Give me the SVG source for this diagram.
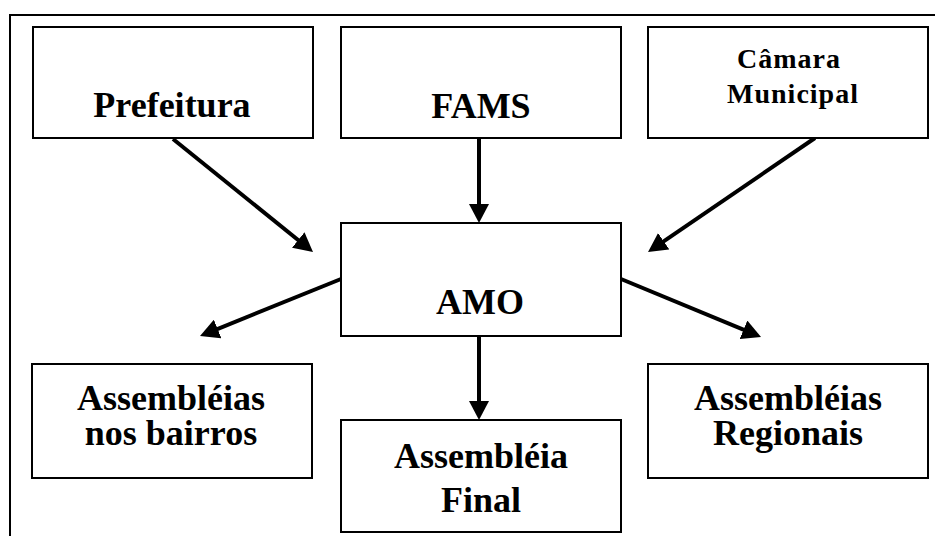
<svg xmlns="http://www.w3.org/2000/svg" width="935" height="536" viewBox="0 0 935 536">
<style>
  .box { fill: #fff; stroke: #000; stroke-width: 2; }
  .lbl { font-family: "Liberation Serif", "Times New Roman", serif; font-weight: bold; font-size: 36px; fill: #000; text-anchor: middle; }
  .sm { font-size: 28px; letter-spacing: 1px; }
  .conn { stroke: #000; stroke-width: 4; fill: none; marker-end: url(#ah); }
</style>
<defs>
  <marker id="ah" viewBox="0 0 19 20" refX="9" refY="10" markerWidth="19" markerHeight="20" markerUnits="userSpaceOnUse" orient="auto">
    <path d="M0,0 L19,10 L0,20 z" fill="#000"/>
  </marker>
</defs>
<rect width="935" height="536" fill="#fff"/>
<g id="frame">
  <path d="M10,536 L10,15 L935,15" fill="none" stroke="#000" stroke-width="2"/>
</g>
<g id="connectors">
  <line class="conn" x1="173" y1="139" x2="305.2" y2="245.7"/>
  <line class="conn" x1="479" y1="139" x2="479" y2="213"/>
  <line class="conn" x1="815" y1="138" x2="656.3" y2="246.4"/>
  <line class="conn" x1="341" y1="279" x2="209.3" y2="332.3"/>
  <line class="conn" x1="621" y1="279" x2="751.8" y2="333.2"/>
  <line class="conn" x1="479" y1="336" x2="479" y2="410"/>
</g>
<g id="prefeitura">
  <rect class="box" x="33" y="27" width="280" height="111"/>
  <text class="lbl" x="172" y="117">Prefeitura</text>
</g>
<g id="fams">
  <rect class="box" x="341" y="27" width="280" height="111"/>
  <text class="lbl" x="481" y="118">FAMS</text>
</g>
<g id="camara">
  <rect class="box" x="648" y="27" width="280" height="111"/>
  <text class="lbl sm" x="789" y="68">Câmara</text>
  <text class="lbl sm" x="793" y="103">Municipal</text>
</g>
<g id="amo">
  <rect class="box" x="341" y="223" width="280" height="113"/>
  <text class="lbl" x="480" y="314">AMO</text>
</g>
<g id="bairros">
  <rect class="box" x="32" y="364" width="280" height="114"/>
  <text class="lbl" x="171" y="410">Assembléias</text>
  <text class="lbl" x="171" y="445">nos bairros</text>
</g>
<g id="final">
  <rect class="box" x="341" y="420" width="280" height="112"/>
  <text class="lbl" x="481" y="468">Assembléia</text>
  <text class="lbl" x="481" y="512">Final</text>
</g>
<g id="regionais">
  <rect class="box" x="648" y="364" width="280" height="114"/>
  <text class="lbl" x="788" y="410">Assembléias</text>
  <text class="lbl" x="788" y="445">Regionais</text>
</g>
</svg>
